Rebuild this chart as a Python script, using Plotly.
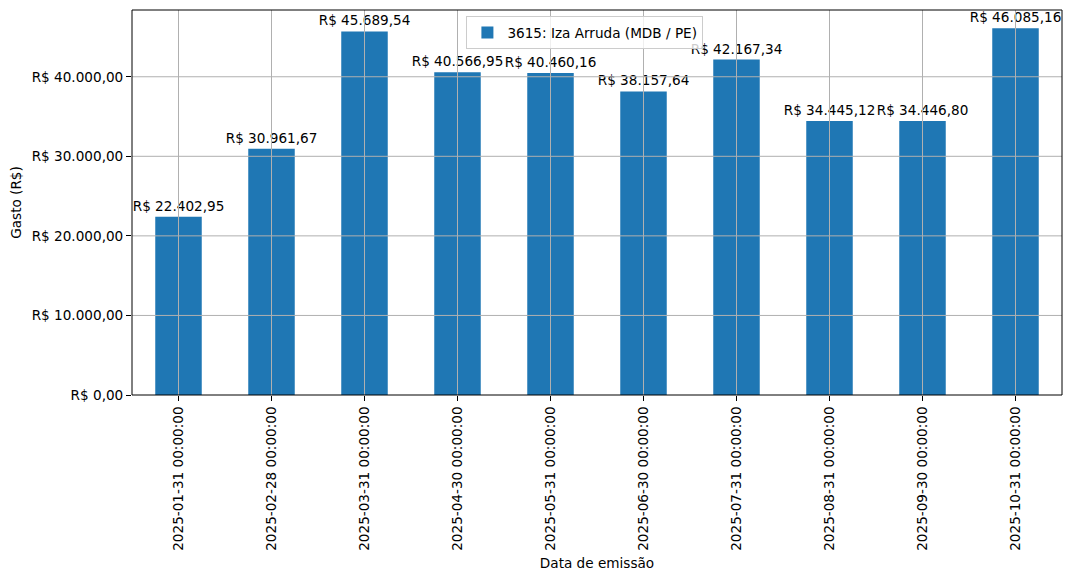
import plotly.graph_objects as go

categories = ["2025-01-31 00:00:00", "2025-02-28 00:00:00", "2025-03-31 00:00:00",
              "2025-04-30 00:00:00", "2025-05-31 00:00:00", "2025-06-30 00:00:00",
              "2025-07-31 00:00:00", "2025-08-31 00:00:00", "2025-09-30 00:00:00",
              "2025-10-31 00:00:00"]
values = [22402.95, 30961.67, 45689.54, 40566.95, 40460.16, 38157.64,
          42167.34, 34445.12, 34446.80, 46085.16]
series_name = "3615: Iza Arruda (MDB / PE)"
ytick_vals = [0, 10000, 20000, 30000, 40000]


def brl(v):
    s = f"{v:,.2f}"
    s = s.replace(",", "X").replace(".", ",").replace("X", ".")
    return "R$ " + s


FONT = "DejaVu Sans"
FS = 13.6
GRID = "#b0b0b0"

fig = go.Figure()
fig.add_trace(go.Bar(
    x=categories, y=values, name=series_name,
    marker=dict(color="#1f77b4", line=dict(width=0)),
    width=0.5,
    text=[brl(v) for v in values],
    textposition="outside",
    cliponaxis=False,
    constraintext="none",
    outsidetextfont=dict(family=FONT, size=FS, color="black"),
    showlegend=True,
))

ymax = max(values) * 1.05

shapes = []
for i in range(len(categories)):
    shapes.append(dict(type="line", xref="x", yref="paper", x0=i, x1=i, y0=0, y1=1,
                       line=dict(color=GRID, width=1), layer="above"))
for v in ytick_vals[1:]:
    shapes.append(dict(type="line", xref="paper", yref="y", x0=0, x1=1, y0=v, y1=v,
                       line=dict(color=GRID, width=1), layer="above"))
shapes.append(dict(type="rect", xref="paper", yref="paper", x0=0, x1=1, y0=0, y1=1,
                   line=dict(color="black", width=1), layer="above"))

fig.update_layout(
    width=1072, height=580,
    margin=dict(l=132, r=10, t=10, b=185, autoexpand=False),
    plot_bgcolor="white", paper_bgcolor="white",
    font=dict(family=FONT, size=FS, color="black"),
    bargap=0.5,
    shapes=shapes,
    legend=dict(x=0.487, xanchor="center", y=0.984, yanchor="top",
                bgcolor="rgba(255,255,255,0.8)", bordercolor="#cccccc", borderwidth=1,
                font=dict(family=FONT, size=FS), itemwidth=30, tracegroupgap=0),
    xaxis=dict(
        type="category", range=[-0.5, len(categories) - 0.5],
        tickangle=-90, ticks="outside", ticklen=5, tickcolor="black", tickwidth=1,
        showgrid=False, showline=False, zeroline=False, automargin=False,
        title=dict(text="Data de emissão", font=dict(family=FONT, size=FS), standoff=8),
    ),
    yaxis=dict(
        range=[0, ymax],
        tickvals=ytick_vals, ticktext=[brl(v) for v in ytick_vals],
        ticks="outside", ticklen=5, tickcolor="black", tickwidth=1,
        showgrid=False, showline=False, zeroline=False, automargin=False,
        title=dict(text="Gasto (R$)", font=dict(family=FONT, size=FS), standoff=6),
    ),
)

fig.write_html("out.html", config={"displayModeBar": False},
               post_script="document.body.style.margin='0';")
